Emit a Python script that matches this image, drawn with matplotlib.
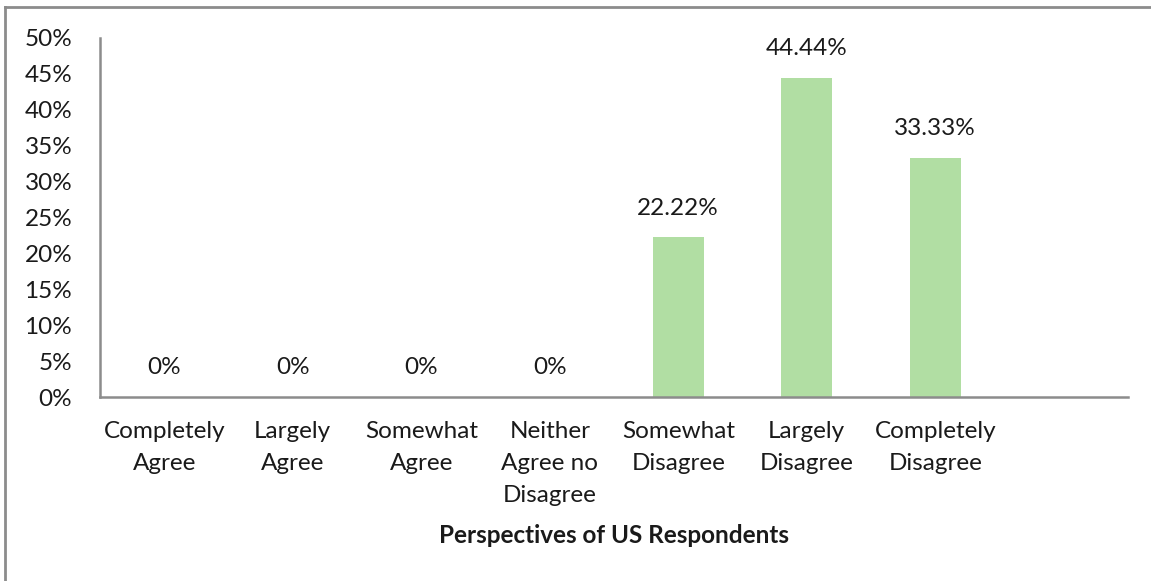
import matplotlib
matplotlib.use("Agg")
import matplotlib.pyplot as plt
from matplotlib.ticker import FuncFormatter

categories = ["Completely\nAgree", "Largely\nAgree", "Somewhat\nAgree",
              "Neither\nAgree no\nDisagree", "Somewhat\nDisagree",
              "Largely\nDisagree", "Completely\nDisagree", ""]
values = [0, 0, 0, 0, 22.22, 44.44, 33.33, None]
labels = ["0%", "0%", "0%", "0%", "22.22%", "44.44%", "33.33%", None]
yticks = [0, 5, 10, 15, 20, 25, 30, 35, 40, 45, 50]
xlabel = "Perspectives of US Respondents"

plt.rcParams['font.family'] = ['Lato', 'DejaVu Sans']
fs = 17.5
grey = "#8c8c8c"
green = "#b1dea3"
tc = "#1a1a1a"

fig = plt.figure(figsize=(11.51, 5.81), dpi=100)
ax = fig.add_axes([100/1151, (581-397)/581, (1128-100)/1151, (397-38)/581])

xs = list(range(len(categories)))
vals = [v if v is not None else 0 for v in values]
ax.bar(xs, vals, width=0.4, color=green, zorder=2)
for x, v, l in zip(xs, vals, labels):
    if l is None:
        continue
    ax.annotate(l, (x, v), xytext=(0, 21), textcoords="offset points",
                ha="center", va="center", fontsize=fs, color=tc)

ax.set_xlim(-0.5, len(categories) - 0.5)
ax.set_ylim(0, 50)
ax.set_yticks(yticks)
ax.yaxis.set_major_formatter(FuncFormatter(lambda v, p: f"{v:.0f}%"))
ax.set_xticks(xs)
ax.set_xticklabels(categories, fontsize=fs, linespacing=1.65, color=tc)
ax.tick_params(axis="x", length=0, pad=17)
ax.tick_params(axis="y", length=0, pad=20, labelsize=fs, labelcolor=tc)
for s in ["top", "right"]:
    ax.spines[s].set_visible(False)
for s in ["left", "bottom"]:
    ax.spines[s].set_color(grey)
    ax.spines[s].set_linewidth(1.8)
ax.set_xlabel(xlabel, fontsize=fs, fontweight="bold", labelpad=13, color=tc)

# outer border (left and top visible)
fig.add_artist(plt.Line2D([5/1151, 5/1151], [0, 1 - 7/581], transform=fig.transFigure, color=grey, lw=2))
fig.add_artist(plt.Line2D([5/1151, 1], [1 - 7/581, 1 - 7/581], transform=fig.transFigure, color=grey, lw=2))

fig.savefig("out.png", dpi=100)
